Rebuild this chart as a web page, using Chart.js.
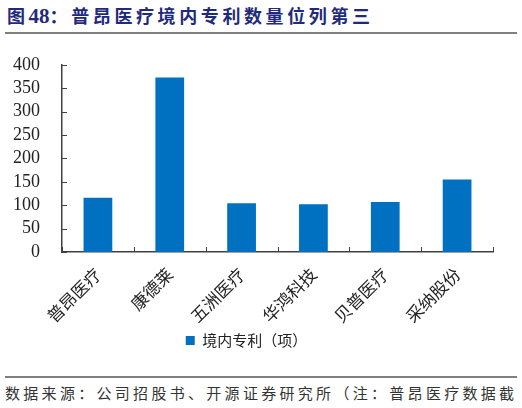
<!DOCTYPE html>
<html lang="zh">
<head>
<meta charset="UTF-8">
<title>普昂医疗境内专利数量位列第三</title>
<script src="https://cdn.jsdelivr.net/npm/chart.js"></script>
<style>
    body {
        margin: 0;
        background: #ffffff;
        width: 522px;
        height: 408px;
        overflow: hidden;
        position: relative;
        font-family: "Noto Sans CJK SC", sans-serif;
    }
    .title {
        position: absolute;
        left: 7px;
        top: 2px;
        font-size: 18px;
        font-weight: bold;
        color: #1f2a7c;
        letter-spacing: 3.6px;
        white-space: nowrap;
    }
    .title .num { font-family: "Liberation Serif", serif; font-size: 21px; letter-spacing: 0; }
    .rule {
        position: absolute;
        left: 5px;
        width: 512px;
        height: 2px;
        background: #808080;
    }
    .src {
        position: absolute;
        left: 5px;
        top: 382px;
        font-size: 15px;
        color: #333333;
        letter-spacing: 3.3px;
        white-space: nowrap;
    }
    #box {
        position: absolute;
        left: 0;
        top: 40px;
        width: 522px;
        height: 318px;
    }
</style>
</head>
<body>
    <div class="title">图<span class="num">48</span>：普昂医疗境内专利数量位列第三</div>
    <div class="rule" style="top:32px"></div>
    <div id="box"><canvas id="chart"></canvas></div>
    <div class="rule" style="top:376px"></div>
    <div class="src">数据来源：公司招股书、开源证券研究所（注：普昂医疗数据截</div>

<script>
    // 数据
    const companies = ['普昂医疗', '康德莱', '五洲医疗', '华鸿科技', '贝普医疗', '采纳股份'];
    const patents = [116, 373, 104, 102, 107, 155];
    const yTicks = [0, 50, 100, 150, 200, 250, 300, 350, 400];
    const seriesName = '境内专利（项）';

    const axisColor = '#404040';

    // 向内的刻度线
    const innerTicks = {
        id: 'innerTicks',
        afterDraw(chart) {
            const ctx = chart.ctx;
            const x = chart.scales.x;
            const y = chart.scales.y;
            const area = chart.chartArea;
            ctx.save();
            ctx.strokeStyle = axisColor;
            ctx.lineWidth = 1;
            ctx.beginPath();
            yTicks.forEach(v => {
                const py = Math.round(y.getPixelForValue(v)) + 0.5;
                ctx.moveTo(area.left, py);
                ctx.lineTo(area.left + 5, py);
            });
            for (let i = 0; i <= companies.length; i++) {
                const px = Math.round(x.getPixelForValue(i - 0.5)) + 0.5;
                ctx.moveTo(px, area.bottom);
                ctx.lineTo(px, area.bottom - 5);
            }
            ctx.stroke();
            ctx.restore();
        }
    };

    new Chart(document.getElementById('chart'), {
        type: 'bar',
        data: {
            labels: companies,
            datasets: [{
                label: seriesName,
                data: patents,
                backgroundColor: '#0070c0',
                borderWidth: 0,
                barPercentage: 0.4,
                categoryPercentage: 1.0
            }]
        },
        options: {
            responsive: true,
            maintainAspectRatio: false,
            animation: false,
            layout: { padding: { top: 19, right: 29, left: 0, bottom: 0 } },
            plugins: {
                legend: {
                    position: 'bottom',
                    labels: {
                        boxWidth: 9,
                        boxHeight: 9,
                        padding: 6,
                        color: '#222',
                        font: { family: 'Noto Sans CJK SC', size: 15 }
                    }
                },
                tooltip: { enabled: false }
            },
            scales: {
                x: {
                    grid: { display: false, offset: true },
                    border: { color: axisColor, width: 1.5 },
                    ticks: {
                        minRotation: 45,
                        maxRotation: 45,
                        padding: 4,
                        color: '#222',
                        font: { family: 'Noto Sans CJK SC', size: 17 }
                    },
                    afterFit(scale) { scale.height = 75; }
                },
                y: {
                    min: 0,
                    max: 400,
                    grid: { display: false },
                    border: { color: axisColor, width: 1.5 },
                    ticks: {
                        stepSize: 50,
                        autoSkip: false,
                        padding: 14,
                        color: '#222',
                        font: { family: 'Liberation Serif', size: 18 }
                    },
                    afterFit(scale) { scale.width = 62; }
                }
            }
        },
        plugins: [innerTicks]
    });
</script>
</body>
</html>
